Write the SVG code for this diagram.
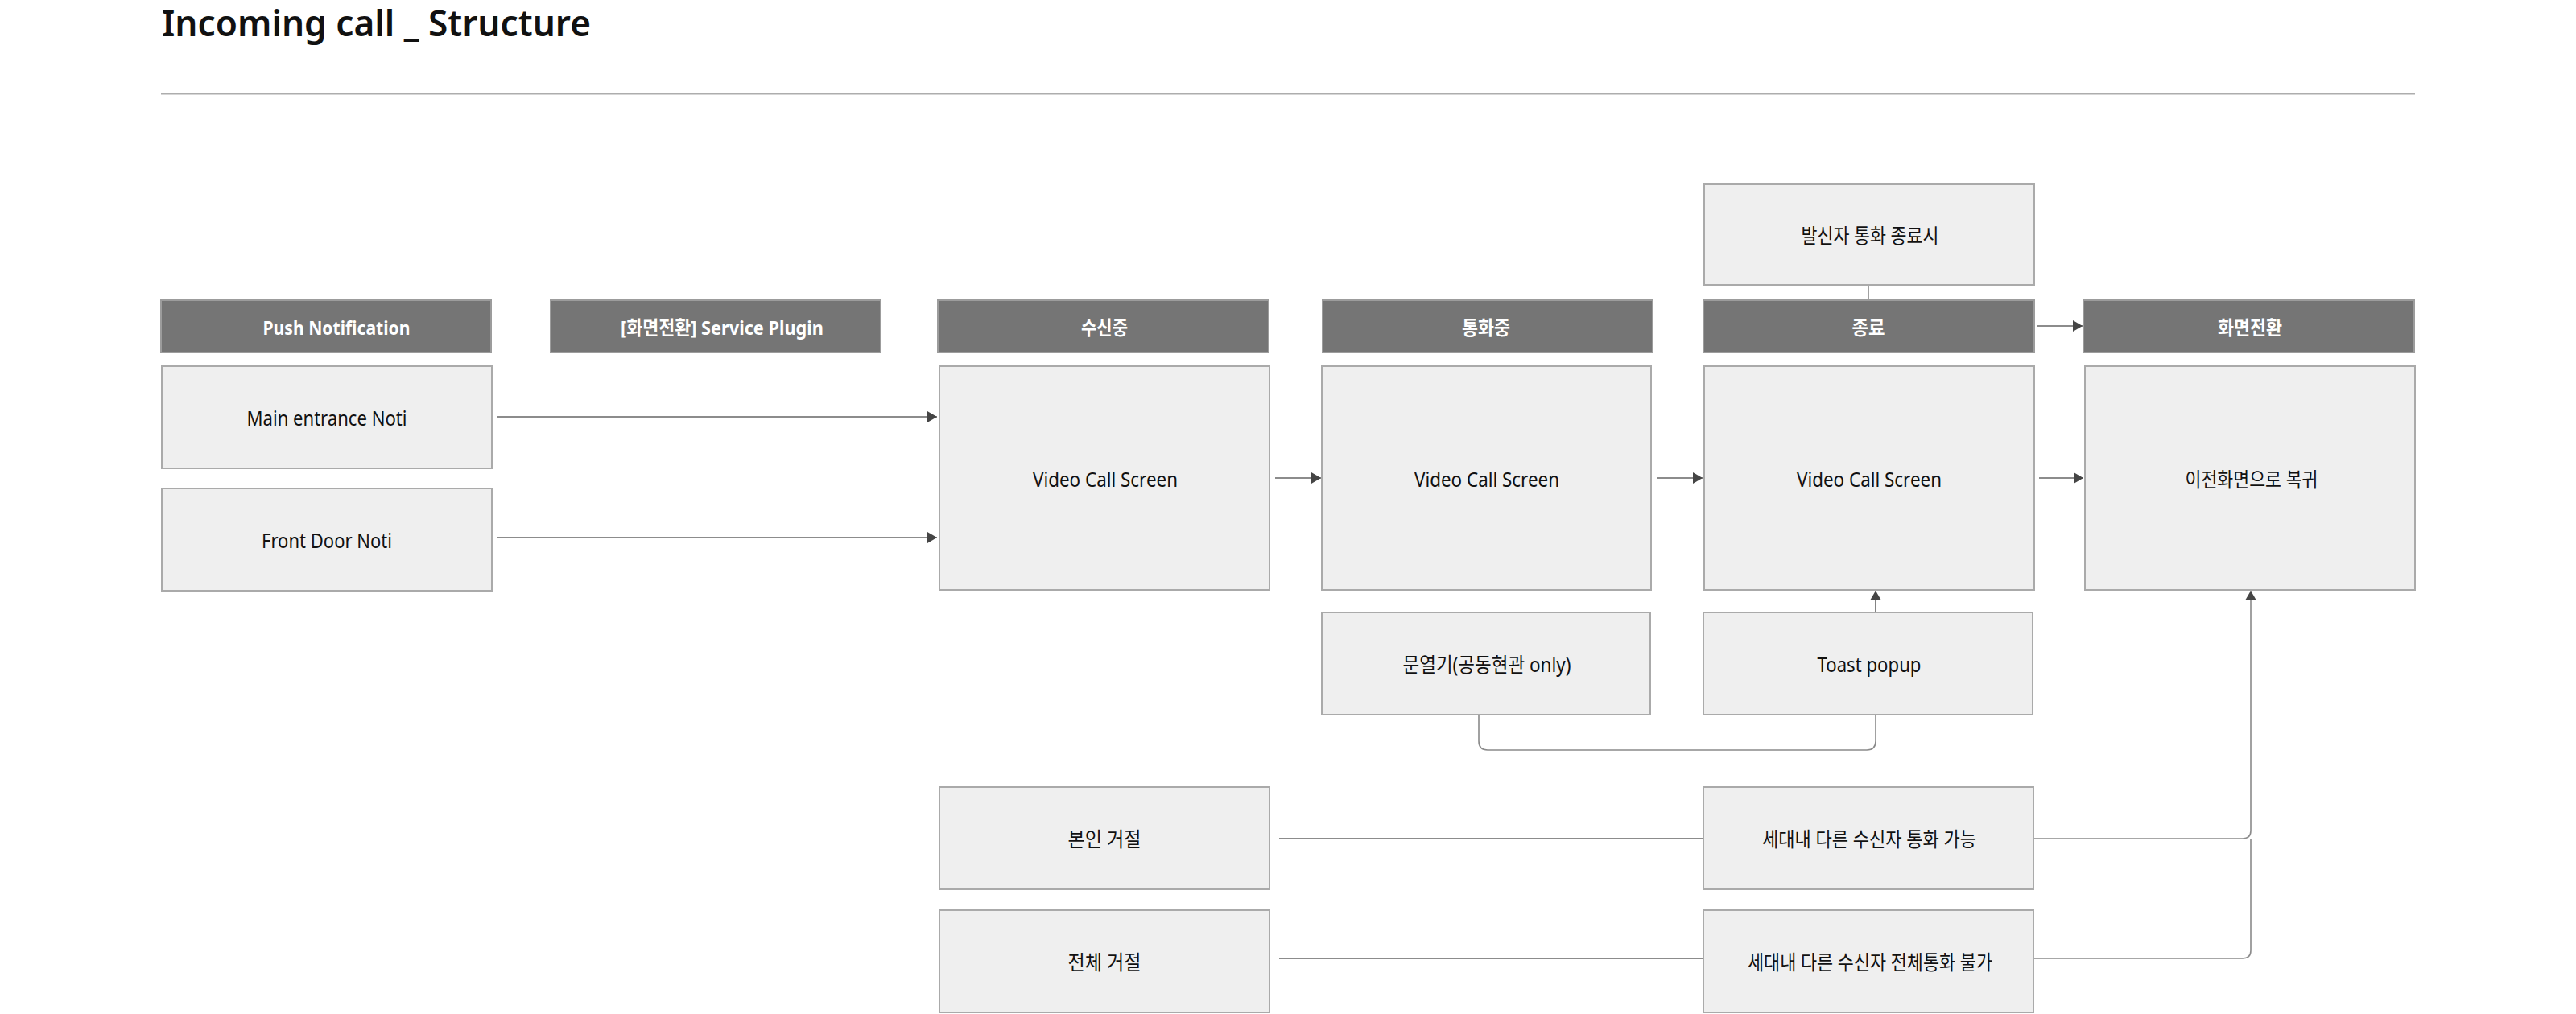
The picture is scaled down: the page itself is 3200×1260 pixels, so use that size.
<svg xmlns="http://www.w3.org/2000/svg" width="3200" height="1260" viewBox="0 0 3200 1260">
<style>
.title{font-family:"Noto Sans","Noto Sans CJK KR",sans-serif;font-size:45px;font-weight:600;fill:#111}
.hdr rect{fill:#757575;stroke:#9c9c9c;stroke-width:2}
.hdr text{font-family:"Noto Sans","Noto Sans CJK KR",sans-serif;font-size:24px;font-weight:700;fill:#fff;text-anchor:middle}
.box rect{fill:#efefef;stroke:#aaaaaa;stroke-width:2}
.box text{font-family:"Noto Sans","Noto Sans CJK KR",sans-serif;font-size:25px;fill:#111;text-anchor:middle}
.ln{fill:none;stroke:#666;stroke-width:1.6}
.ln2{fill:none;stroke:#8a8a8a;stroke-width:1.6}
</style>
<defs>
<marker id="ah" markerUnits="userSpaceOnUse" markerWidth="14" markerHeight="14" refX="12" refY="7" orient="auto">
<path d="M0,0 L12,7 L0,14 z" fill="#454545"/>
</marker>
</defs>
<rect x="0" y="0" width="3200" height="1260" fill="#fff"/>
<text class="title" x="201" y="45" textLength="533" lengthAdjust="spacingAndGlyphs">Incoming call _ Structure</text>
<line x1="200" y1="116.5" x2="3000" y2="116.5" stroke="#adadad" stroke-width="2"/>

<g id="connectors">
<path class="ln" d="M617,518 H1164" marker-end="url(#ah)"/>
<path class="ln" d="M617,668 H1164" marker-end="url(#ah)"/>
<path class="ln" d="M1584,594 H1641" marker-end="url(#ah)"/>
<path class="ln" d="M2059,594 H2115" marker-end="url(#ah)"/>
<path class="ln" d="M2533,594 H2588" marker-end="url(#ah)"/>
<path class="ln" d="M2530,405 H2587" marker-end="url(#ah)"/>
<path class="ln2" d="M2321,354 V373"/>
<path class="ln" d="M2330,761 V734" marker-end="url(#ah)"/>
<path class="ln2" d="M1837,888 V921 Q1837,932 1848,932 H2319 Q2330,932 2330,921 V888"/>
<path class="ln" d="M1589,1042 H2115"/>
<path class="ln" d="M1589,1191 H2115"/>
<path class="ln2" d="M2526,1042 H2786 Q2796,1042 2796,1032 V734" marker-end="url(#ah)"/>
<path class="ln2" d="M2526,1191 H2786 Q2796,1191 2796,1181 V1042"/>
</g>

<g id="h-push" class="hdr"><rect x="200" y="373" width="410" height="65"/><text x="418" y="416" textLength="183" lengthAdjust="spacingAndGlyphs">Push Notification</text></g>
<g id="h-plugin" class="hdr"><rect x="684" y="373" width="410" height="65"/><text x="897" y="416" textLength="252" lengthAdjust="spacingAndGlyphs">[화면전환] Service Plugin</text></g>
<g id="h-receiving" class="hdr"><rect x="1165" y="373" width="411" height="65"/><text x="1372" y="416" textLength="58" lengthAdjust="spacingAndGlyphs">수신중</text></g>
<g id="h-calling" class="hdr"><rect x="1643" y="373" width="410" height="65"/><text x="1846" y="416" textLength="60" lengthAdjust="spacingAndGlyphs">통화중</text></g>
<g id="h-end" class="hdr"><rect x="2116" y="373" width="411" height="65"/><text x="2321" y="416" textLength="41" lengthAdjust="spacingAndGlyphs">종료</text></g>
<g id="h-switch" class="hdr"><rect x="2588" y="373" width="411" height="65"/><text x="2795" y="416" textLength="80" lengthAdjust="spacingAndGlyphs">화면전환</text></g>

<g id="n-main" class="box"><rect x="201" y="455" width="410" height="127"/><text x="406" y="529" textLength="199" lengthAdjust="spacingAndGlyphs">Main entrance Noti</text></g>
<g id="n-front" class="box"><rect x="201" y="607" width="410" height="127"/><text x="406" y="681" textLength="162" lengthAdjust="spacingAndGlyphs">Front Door Noti</text></g>
<g id="n-vcs1" class="box"><rect x="1167" y="455" width="410" height="278"/><text x="1373" y="605" textLength="180" lengthAdjust="spacingAndGlyphs">Video Call Screen</text></g>
<g id="n-vcs2" class="box"><rect x="1642" y="455" width="409" height="278"/><text x="1847" y="605" textLength="180" lengthAdjust="spacingAndGlyphs">Video Call Screen</text></g>
<g id="n-vcs3" class="box"><rect x="2117" y="455" width="410" height="278"/><text x="2322" y="605" textLength="180" lengthAdjust="spacingAndGlyphs">Video Call Screen</text></g>
<g id="n-return" class="box"><rect x="2590" y="455" width="410" height="278"/><text x="2797" y="605" textLength="165" lengthAdjust="spacingAndGlyphs">이전화면으로 복귀</text></g>
<g id="n-caller-end" class="box"><rect x="2117" y="229" width="410" height="125"/><text x="2323" y="302" textLength="171" lengthAdjust="spacingAndGlyphs">발신자 통화 종료시</text></g>
<g id="n-door" class="box"><rect x="1642" y="761" width="408" height="127"/><text x="1847" y="835" textLength="209" lengthAdjust="spacingAndGlyphs">문열기(공동현관 only)</text></g>
<g id="n-toast" class="box"><rect x="2116" y="761" width="409" height="127"/><text x="2322" y="835" textLength="129" lengthAdjust="spacingAndGlyphs">Toast popup</text></g>
<g id="n-self-reject" class="box"><rect x="1167" y="978" width="410" height="127"/><text x="1372" y="1052" textLength="91" lengthAdjust="spacingAndGlyphs">본인 거절</text></g>
<g id="n-all-reject" class="box"><rect x="1167" y="1131" width="410" height="127"/><text x="1372" y="1205" textLength="91" lengthAdjust="spacingAndGlyphs">전체 거절</text></g>
<g id="n-others-ok" class="box"><rect x="2116" y="978" width="410" height="127"/><text x="2322" y="1052" textLength="266" lengthAdjust="spacingAndGlyphs">세대내 다른 수신자 통화 가능</text></g>
<g id="n-others-no" class="box"><rect x="2116" y="1131" width="410" height="127"/><text x="2323" y="1205" textLength="304" lengthAdjust="spacingAndGlyphs">세대내 다른 수신자 전체통화 불가</text></g>
</svg>
